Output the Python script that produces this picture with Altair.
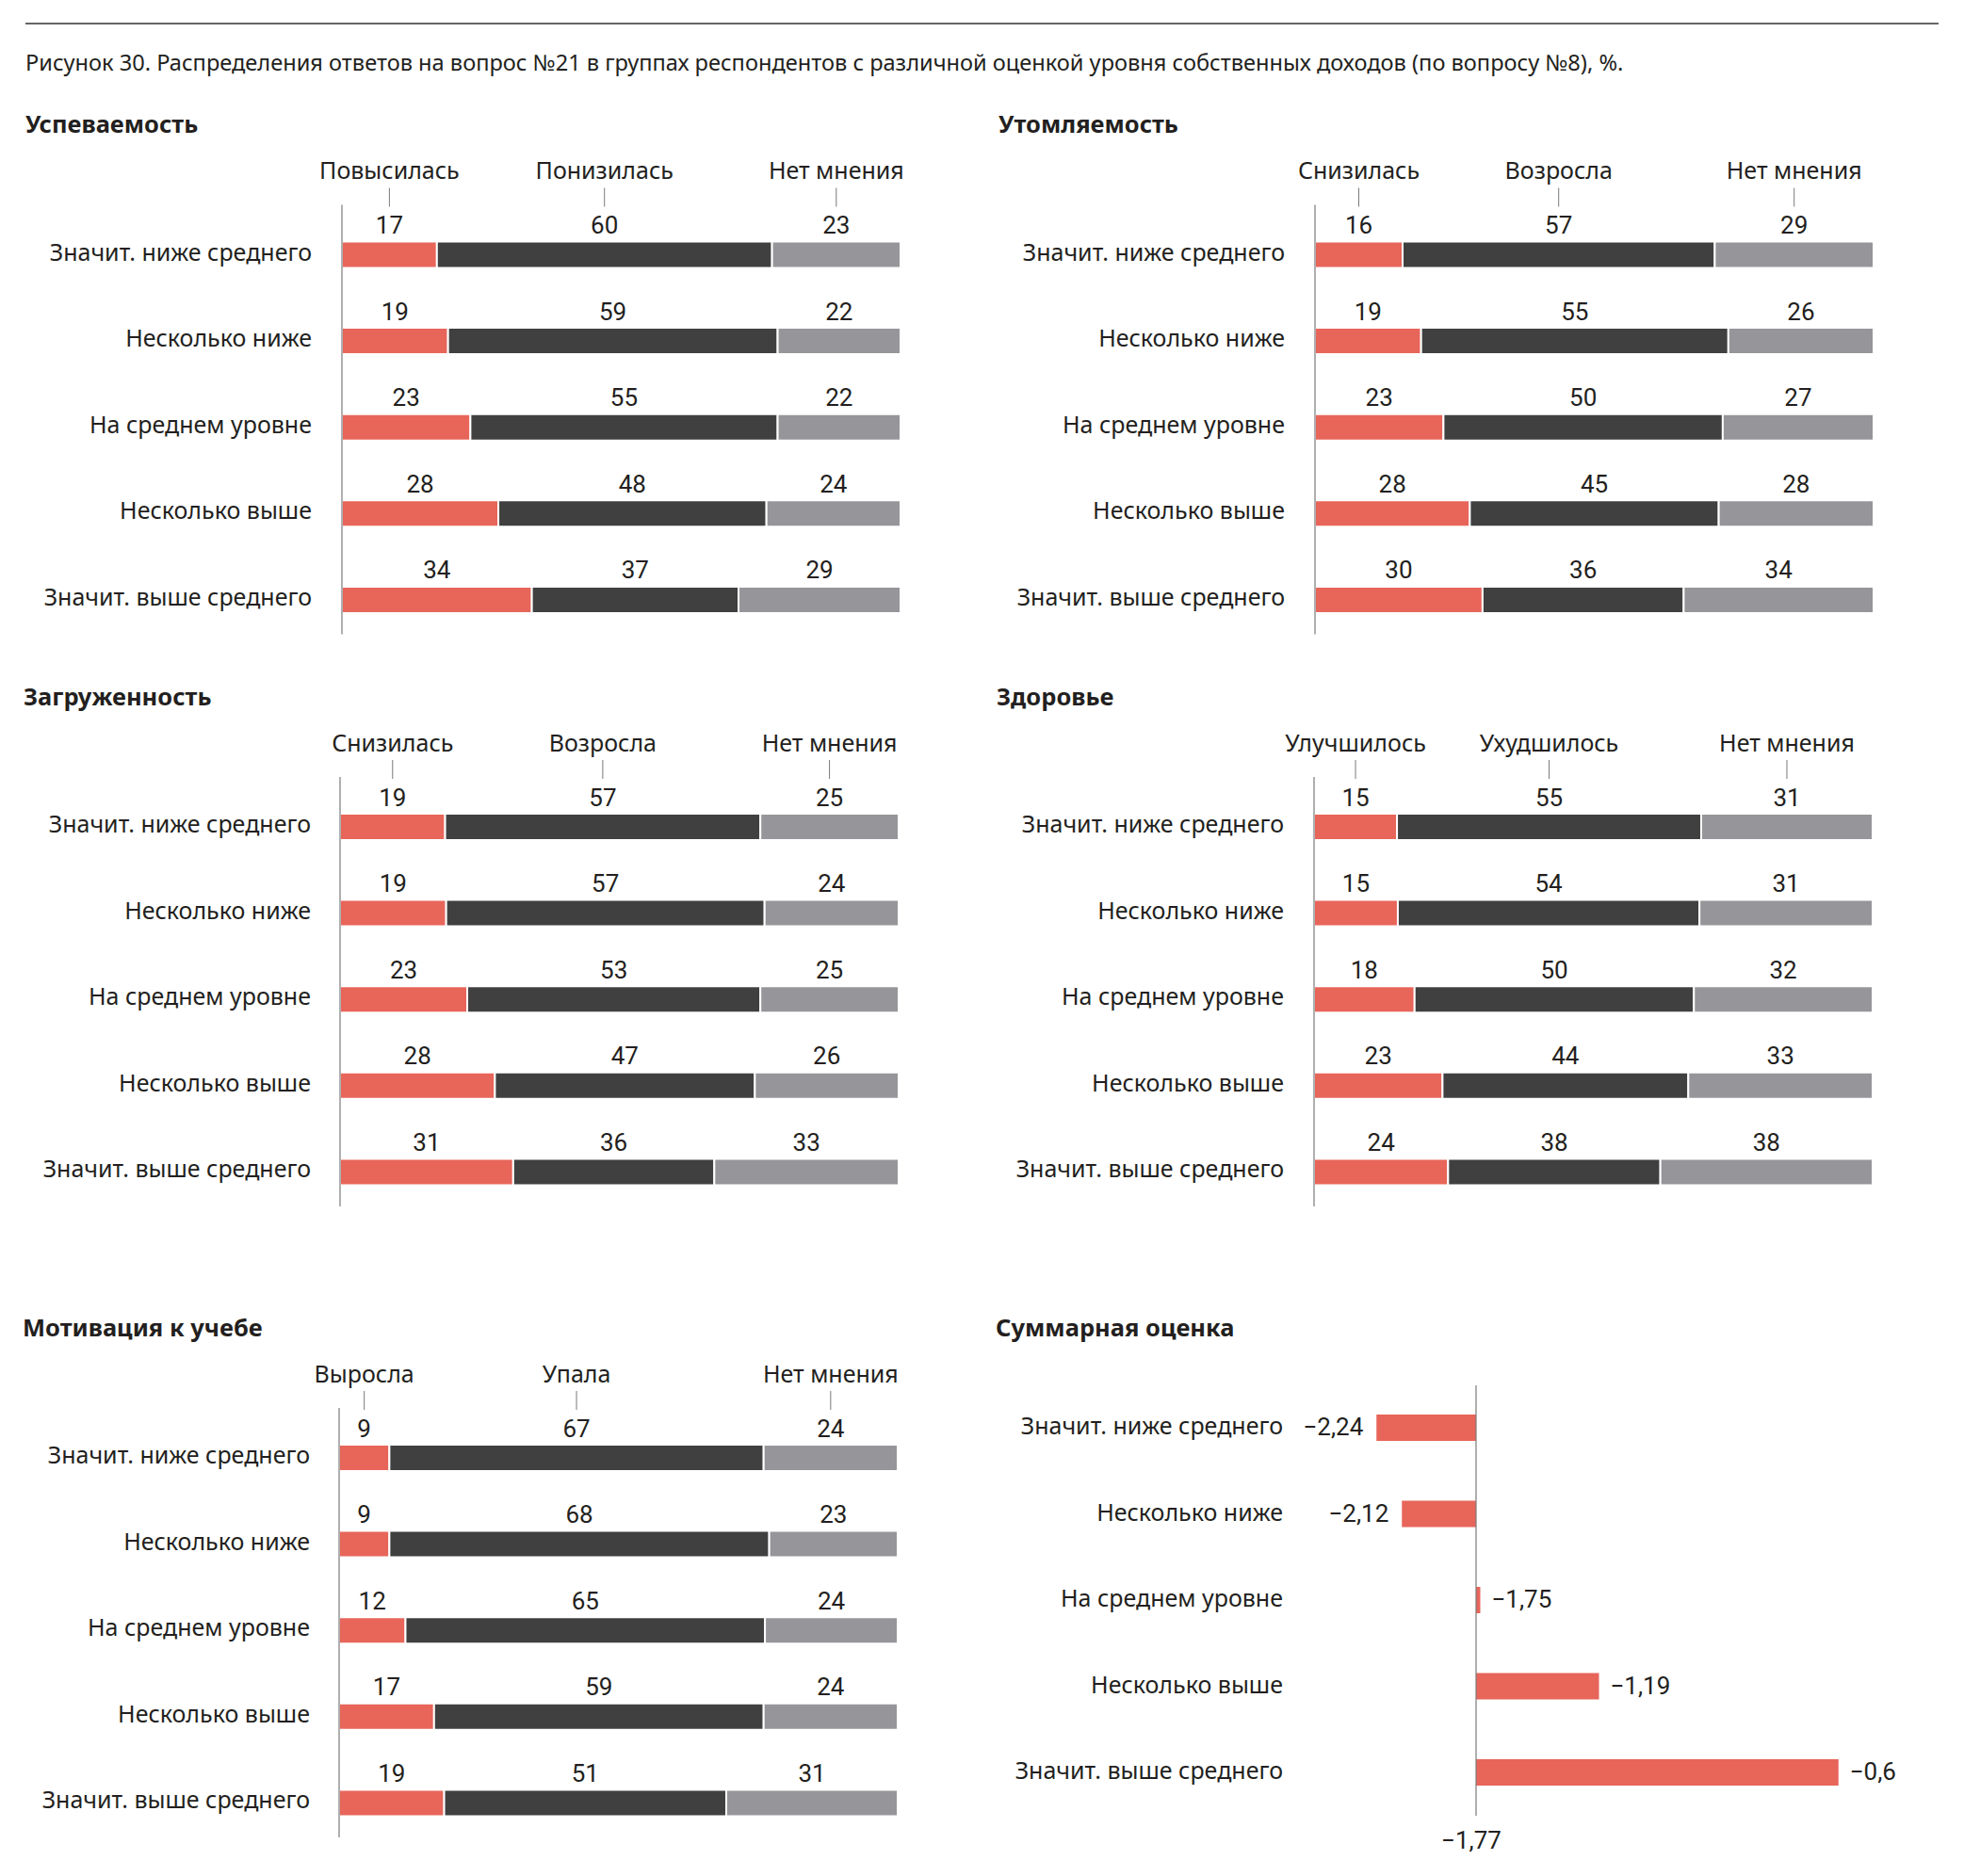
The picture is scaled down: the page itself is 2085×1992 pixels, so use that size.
import altair as alt
import pandas as pd

# ---------------- data ----------------
ROWS = ["Значит. ниже среднего", "Несколько ниже", "На среднем уровне",
        "Несколько выше", "Значит. выше среднего"]

FIG_TITLE = ("Рисунок 30. Распределения ответов на вопрос №21 в группах респондентов "
             "с различной оценкой уровня собственных доходов (по вопросу №8), %.")

P1_NAME = "Успеваемость"
P1_CATS = ["Повысилась", "Понизилась", "Нет мнения"]
P1_A = [17, 19, 23, 28, 34]
P1_B = [60, 59, 55, 48, 37]
P1_C = [23, 22, 22, 24, 29]

P2_NAME = "Утомляемость"
P2_CATS = ["Снизилась", "Возросла", "Нет мнения"]
P2_A = [16, 19, 23, 28, 30]
P2_B = [57, 55, 50, 45, 36]
P2_C = [29, 26, 27, 28, 34]

P3_NAME = "Загруженность"
P3_CATS = ["Снизилась", "Возросла", "Нет мнения"]
P3_A = [19, 19, 23, 28, 31]
P3_B = [57, 57, 53, 47, 36]
P3_C = [25, 24, 25, 26, 33]

P4_NAME = "Здоровье"
P4_CATS = ["Улучшилось", "Ухудшилось", "Нет мнения"]
P4_A = [15, 15, 18, 23, 24]
P4_B = [55, 54, 50, 44, 38]
P4_C = [31, 31, 32, 33, 38]

P5_NAME = "Мотивация к учебе"
P5_CATS = ["Выросла", "Упала", "Нет мнения"]
P5_A = [9, 9, 12, 17, 19]
P5_B = [67, 68, 65, 59, 51]
P5_C = [24, 23, 24, 24, 31]

SUM_NAME = "Суммарная оценка"
SUM_LABELS = [-2.24, -2.12, -1.75, -1.19, -0.6]   # values as printed
SUM_BARS = [-2.24, -2.12, -1.75, -1.19, -0.06]    # bar ends as drawn in the picture
SUM_BASE = -1.77

# ---------------- style ----------------
COLORS = ["#e8655a", "#404040", "#96969a"]
TEXT = "#231f20"
AXIS = "#7a7a7a"
TXT_FONT = "Noto Sans"
NUM_FONT = "Roboto"
LABEL_SIZE = 25
NUM_SIZE = 26
BAR_W = 593
STEP = 91.6
BW = 28

dummy = pd.DataFrame({"d": [0]})


def fmt(x):
    s = "{:g}".format(abs(x)).replace(".", ",")
    return ("\u2212" if x < 0 else "") + s


def band_scale(cy0, step, bw):
    return alt.Scale(domain=ROWS, range=[cy0 - bw / 2, cy0 + 4 * step + bw / 2],
                     paddingInner=1 - bw / step, paddingOuter=0)


def panel_title(name, tx, ty):
    return alt.Chart(dummy).mark_text(
        font=TXT_FONT, fontSize=25.5, fontWeight="bold", align="left",
        baseline="alphabetic", color=TEXT
    ).encode(x=alt.value(tx), y=alt.value(ty), text=alt.value(name))


def row_labels(yscale, lx, dy=6):
    return alt.Chart(pd.DataFrame({"row": ROWS})).mark_text(
        font=TXT_FONT, fontSize=LABEL_SIZE, color=TEXT, align="right",
        baseline="alphabetic", dy=dy
    ).encode(x=alt.value(lx), y=alt.Y("row:N", scale=yscale, axis=None), text="row:N")


def stacked_panel(name, cats, a, b, c, bx, cy0, tx, lx):
    recs = []
    for ri, r in enumerate(ROWS):
        for ci, vals in enumerate([a, b, c]):
            recs.append({"row": r, "ri": ri, "ci": ci, "cat": cats[ci], "v": vals[ri]})
    df = pd.DataFrame(recs)
    yscale = band_scale(cy0, STEP, BW)
    xscale = alt.Scale(domain=[0, 1], range=[bx, bx + BAR_W])
    base = alt.Chart(df).transform_stack(
        stack="v", groupby=["row"], as_=["s0", "s1"], offset="normalize",
        sort=[alt.SortField(field="ci", order="ascending")]
    ).transform_calculate(mid="(datum.s0 + datum.s1) / 2")

    bars = base.mark_bar(stroke="white", strokeWidth=2).encode(
        x=alt.X("s0:Q", scale=xscale, axis=None),
        x2="s1:Q",
        y=alt.Y("row:N", scale=yscale, axis=None),
        color=alt.Color("ci:N", scale=alt.Scale(domain=[0, 1, 2], range=COLORS), legend=None),
    )
    vals = base.mark_text(font=NUM_FONT, fontSize=NUM_SIZE, color=TEXT,
                          baseline="alphabetic", dy=-22.5).encode(
        x=alt.X("mid:Q", scale=xscale, axis=None),
        y=alt.Y("row:N", scale=yscale, axis=None),
        text="v:Q",
    )
    first = base.transform_filter("datum.ri == 0")
    hdr = first.mark_text(font=TXT_FONT, fontSize=LABEL_SIZE, color=TEXT,
                          baseline="alphabetic").encode(
        x=alt.X("mid:Q", scale=xscale, axis=None),
        y=alt.value(cy0 - 80.5),
        text="cat:N",
    )
    ticks = first.mark_rule(color=AXIS, strokeWidth=1).encode(
        x=alt.X("mid:Q", scale=xscale, axis=None),
        y=alt.value(cy0 - 71),
        y2=alt.value(cy0 - 51),
    )
    axis = alt.Chart(dummy).mark_rule(color=AXIS, strokeWidth=1.2).encode(
        x=alt.value(bx), y=alt.value(cy0 - 53), y2=alt.value(cy0 + 403))
    return alt.layer(bars, vals, hdr, ticks, row_labels(yscale, lx),
                     axis, panel_title(name, tx, cy0 - 129.5))


def summary_panel(name, bx, cy0, tx, ty, lx):
    sdf = pd.DataFrame({"row": ROWS, "v": SUM_BARS, "lab": [fmt(x) for x in SUM_LABELS]})
    step = 91.5
    yscale = band_scale(cy0, step, 28)
    ppu = 225.0
    xscale = alt.Scale(domain=[-2.5, 0],
                       range=[bx - (SUM_BASE + 2.5) * ppu, bx + (0 - SUM_BASE) * ppu])
    base = alt.Chart(sdf).transform_calculate(base=str(SUM_BASE))
    bars = base.mark_bar(color=COLORS[0]).encode(
        x=alt.X("v:Q", scale=xscale, axis=None),
        x2="base:Q",
        y=alt.Y("row:N", scale=yscale, axis=None),
    )
    lab_left = base.transform_filter("datum.v < datum.base").mark_text(
        font=NUM_FONT, fontSize=NUM_SIZE, color=TEXT, align="right",
        baseline="alphabetic", dx=-14, dy=8).encode(
        x=alt.X("v:Q", scale=xscale, axis=None),
        y=alt.Y("row:N", scale=yscale, axis=None), text="lab:N")
    lab_right = base.transform_filter("datum.v >= datum.base").mark_text(
        font=NUM_FONT, fontSize=NUM_SIZE, color=TEXT, align="left",
        baseline="alphabetic", dx=12, dy=8).encode(
        x=alt.X("v:Q", scale=xscale, axis=None),
        y=alt.Y("row:N", scale=yscale, axis=None), text="lab:N")
    axis = alt.Chart(dummy).mark_rule(color=AXIS, strokeWidth=1.2).encode(
        x=alt.value(bx), y=alt.value(cy0 - 45), y2=alt.value(cy0 + 412))
    base_lab = alt.Chart(pd.DataFrame({"b": [SUM_BASE], "t": [fmt(SUM_BASE)]})).mark_text(
        font=NUM_FONT, fontSize=NUM_SIZE, color=TEXT, baseline="alphabetic", dx=-5).encode(
        x=alt.X("b:Q", scale=xscale, axis=None), y=alt.value(cy0 + 447), text="t:N")
    return alt.layer(bars, lab_left, lab_right, row_labels(yscale, lx, dy=7),
                     axis, base_lab, panel_title(name, tx, ty))


top_rule = alt.Chart(dummy).mark_rule(color="#333333", strokeWidth=1.5).encode(
    x=alt.value(19), x2=alt.value(2050), y=alt.value(17))
fig_title = alt.Chart(dummy).mark_text(
    font=TXT_FONT, fontSize=23.6, color=TEXT, align="left", baseline="alphabetic"
).encode(x=alt.value(19), y=alt.value(67), text=alt.value(FIG_TITLE))

p1 = stacked_panel(P1_NAME, P1_CATS, P1_A, P1_B, P1_C, bx=355, cy0=262.5, tx=19, lx=323)
p2 = stacked_panel(P2_NAME, P2_CATS, P2_A, P2_B, P2_C, bx=1388, cy0=262.5, tx=1052, lx=1356)
p3 = stacked_panel(P3_NAME, P3_CATS, P3_A, P3_B, P3_C, bx=353, cy0=870, tx=17, lx=322)
p4 = stacked_panel(P4_NAME, P4_CATS, P4_A, P4_B, P4_C, bx=1387, cy0=870, tx=1050, lx=1355)
p5 = stacked_panel(P5_NAME, P5_CATS, P5_A, P5_B, P5_C, bx=352, cy0=1540, tx=16, lx=321)
p6 = summary_panel(SUM_NAME, bx=1559, cy0=1508, tx=1049, ty=1411, lx=1354)

chart = alt.layer(top_rule, fig_title, p1, p2, p3, p4, p5, p6).resolve_scale(
    x="independent", y="independent", color="shared"
).properties(
    width=2069, height=1976, padding=0, autosize="none"
).configure_view(stroke=None)

chart.save("out.html", embed_options={"renderer": "svg", "actions": False})
